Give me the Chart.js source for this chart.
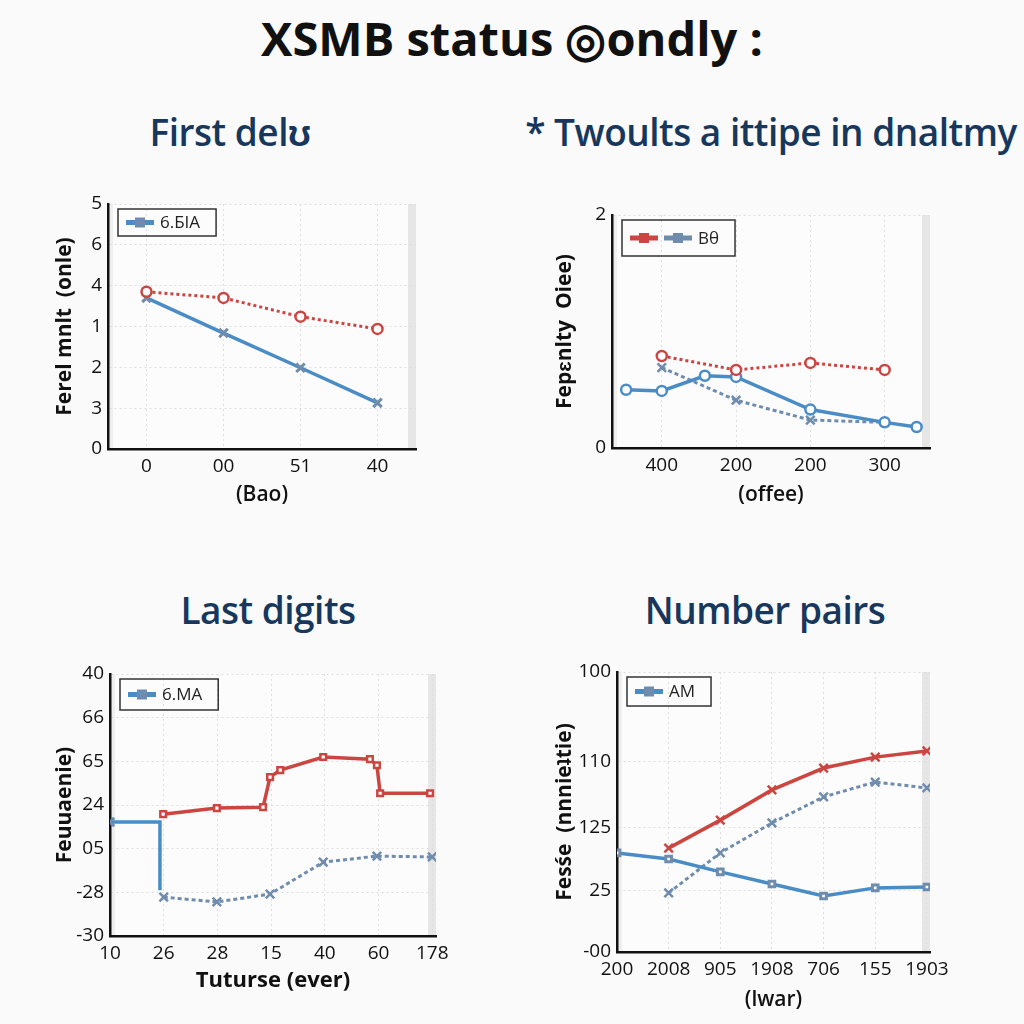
<!DOCTYPE html>
<html>
<head>
<meta charset="utf-8">
<script src="https://cdn.jsdelivr.net/npm/chart.js@4.4.1/dist/chart.umd.min.js"></script>
<style>
  body { margin: 0; width: 1024px; height: 1024px; background: #fafafa; position: relative; overflow: hidden; font-family: 'Open Sans', sans-serif; }
  #mainTitle { position: absolute; top: 6px; left: 0; width: 1024px; text-align: center; font-size: 47px; font-weight: 700; color: #111; letter-spacing: 0px; }
  .sub { position: absolute; font-size: 37px; font-weight: 600; color: #17385c; text-align: center; white-space: nowrap; letter-spacing: -0.5px; }
  .box { position: absolute; }
</style>
</head>
<body>
<div id="mainTitle">XSMB status ◎ondly  :</div>
<div class="sub" style="left:30px;top:106px;width:400px;">First delʊ</div>
<div class="sub" style="left:494px;top:106px;width:554px;">* Twoults a ittipe in dnaltmy</div>
<div class="sub" style="left:68px;top:584px;width:400px;">Last digits</div>
<div class="sub" style="left:565px;top:584px;width:400px;">Number pairs</div>

<div class="box" style="left:40px;top:180px;width:400px;height:340px;"><canvas id="chart1"></canvas></div>
<div class="box" style="left:540px;top:190px;width:420px;height:330px;"><canvas id="chart2"></canvas></div>
<div class="box" style="left:40px;top:650px;width:420px;height:370px;"><canvas id="chart3"></canvas></div>
<div class="box" style="left:540px;top:650px;width:420px;height:370px;"><canvas id="chart4"></canvas></div>

<script>
// ---------------- data ----------------
// chart 1 - First delu
const c1Labels = ['0', '00', '51', '40'];
const c1YTicks = ['0', '3', '2', '1', '4', '6', '5'];
const c1Red = [3.85, 3.70, 3.24, 2.94];
const c1Blue = [3.70, 2.84, 1.99, 1.13];

// chart 2 - Twoults
const c2XTicks = ['400', '200', '200', '300'];
const c2YTickPos = [0, 2];
const c2YTicks = ['0', '2'];
const c2RedX = [1, 2, 3, 4];
const c2Red = [0.79, 0.67, 0.73, 0.67];
const c2BlueX = [0.52, 1, 1.58, 2, 3, 4, 4.43];
const c2Blue = [0.50, 0.49, 0.62, 0.61, 0.33, 0.22, 0.18];
const c2GrayX = [1, 2, 3, 4];
const c2Gray = [0.69, 0.41, 0.24, 0.22];

// chart 3 - Last digits
const c3XTicks = ['10', '26', '28', '15', '40', '60', '178'];
const c3YTicks = ['-30', '-28', '05', '24', '65', '66', '40'];
const c3RedX = [0.99, 1.99, 2.85, 2.98, 3.17, 3.97, 4.84, 4.97, 5.03, 5.96];
const c3Red = [2.79, 2.93, 2.95, 3.64, 3.80, 4.10, 4.05, 3.91, 3.27, 3.27];
const c3BlueX = [0, 0.93, 0.93];
const c3Blue = [2.61, 2.61, 1.05];
const c3GrayX = [1, 1.99, 2.98, 3.97, 4.97, 6];
const c3Gray = [0.89, 0.78, 0.96, 1.69, 1.83, 1.81];

// chart 4 - Number pairs
const c4XTicks = ['200', '2008', '905', '1908', '706', '155', '1903'];
const c4YTickPos = [0, 21.8, 44.3, 67.9, 100];
const c4YTicks = ['-00', '25', '125', '110', '100'];
const c4RedX = [1, 2, 3, 4, 5, 6];
const c4Red = [37.1, 47.1, 57.9, 65.7, 69.6, 71.8];
const c4BlueX = [0, 1, 2, 3, 4, 5, 6];
const c4Blue = [35.4, 33.2, 28.6, 24.3, 20.0, 22.9, 23.2];
const c4GrayX = [1, 2, 3, 4, 5, 6];
const c4Gray = [21.1, 35.4, 46.1, 55.4, 60.7, 58.6];

// ---------------- styles ----------------
const RED = '#cb4541';
const BLUE = '#4a8cc6';
const GRAY = '#6f8cad';
const FAMILY = "'Open Sans', sans-serif";
const tickFont = { family: FAMILY, size: 19 };

const xy = (xs, ys) => xs.map((x, i) => ({ x: x, y: ys[i] }));

// plot background, grey side bands and the framed legend in the top-left corner
const framePlugin = {
  id: 'frame',
  beforeDraw(chart) {
    const a = chart.chartArea, c = chart.ctx;
    c.save();
    c.fillStyle = '#fcfcfc';
    c.fillRect(a.left, a.top, a.right - a.left, a.bottom - a.top);
    c.fillStyle = '#e6e6e6';
    c.fillRect(a.right - 8, a.top, 8, a.bottom - a.top);
    c.fillStyle = '#efefef';
    c.fillRect(a.left, a.top, 5, a.bottom - a.top);
    c.restore();
  },
  afterDraw(chart) {
    const a = chart.chartArea, c = chart.ctx;
    const items = chart.data.datasets.filter(d => d.inLegend);
    if (!items.length) return;
    const x0 = a.left + 10, y0 = a.top + 5, h = chart.options.legendHeight || 28;
    const midY = y0 + h / 2;
    c.save();
    c.font = '17px ' + FAMILY;
    c.textBaseline = 'middle';
    let x = x0 + 8;
    items.forEach(d => {
      const col = d.legendColor || d.borderColor;
      c.strokeStyle = col;
      c.lineWidth = 5;
      c.beginPath(); c.moveTo(x, midY); c.lineTo(x + 28, midY); c.stroke();
      c.fillStyle = d.pointBorderColor || col;
      c.fillRect(x + 9, midY - 5, 10, 10);
      x += 34;
      if (d.label) {
        c.fillStyle = '#222';
        c.fillText(d.label, x, midY + 1);
        x += c.measureText(d.label).width;
      }
    });
    const w = x - x0 + 16;
    c.strokeStyle = '#333';
    c.lineWidth = 1.5;
    c.strokeRect(x0, y0, w, h);
    c.restore();
  }
};

function redLine(data, dashed, marker) {
  return {
    data: data, borderColor: RED, backgroundColor: RED, borderWidth: 3,
    borderDash: dashed ? [3, 3] : [], pointStyle: marker || 'circle', pointRadius: 5,
    pointBorderWidth: 2.5, pointBackgroundColor: '#fff', pointBorderColor: RED, tension: 0
  };
}
function blueLine(data, marker) {
  return {
    data: data, borderColor: BLUE, backgroundColor: BLUE, borderWidth: 3.5,
    pointStyle: marker || 'crossRot', pointRadius: 6, pointBorderWidth: 3,
    pointBorderColor: GRAY, pointBackgroundColor: '#fff', tension: 0
  };
}
function grayLine(data) {
  return {
    data: data, borderColor: GRAY, backgroundColor: GRAY, borderWidth: 3,
    borderDash: [4, 3], pointStyle: 'crossRot', pointRadius: 6, pointBorderWidth: 2.5,
    pointBorderColor: GRAY, tension: 0
  };
}

function axisBase(title, titleWeight) {
  return {
    title: { display: true, text: title, font: { family: FAMILY, size: 21, weight: titleWeight || 'bold' }, color: '#111', padding: 2 },
    ticks: { font: tickFont, color: '#111', padding: 6, autoSkip: false, maxRotation: 0 },
    grid: { color: '#dedede', lineWidth: 1, drawTicks: false },
    border: { color: '#111', width: 2.5, dash: [2, 3] }
  };
}

function fixedTicks(axis, positions, labels) {
  axis.afterBuildTicks = s => { s.ticks = positions.map(v => ({ value: v })); };
  axis.ticks.callback = (v, i) => labels[i];
  return axis;
}

function makeChart(id, datasets, xScale, yScale, pad, yWidth, xHeight, legendHeight) {
  yScale.afterFit = s => { s.width = yWidth; };
  xScale.afterFit = s => { s.height = xHeight; };
  return new Chart(document.getElementById(id), {
    type: 'line',
    data: { datasets: datasets },
    options: {
      responsive: true,
      maintainAspectRatio: false,
      animation: false,
      legendHeight: legendHeight,
      layout: { padding: pad },
      scales: { x: xScale, y: yScale },
      plugins: { legend: { display: false }, tooltip: { enabled: false } }
    },
    plugins: [framePlugin]
  });
}

// ---------------- chart 1 ----------------
const c1x = axisBase('(Bao)', '600');
c1x.type = 'category';
c1x.labels = c1Labels;
c1x.offset = true;
const c1y = fixedTicks(Object.assign(axisBase('Ferel mnlt  (onle)'), { type: 'linear', min: 0, max: 6 }),
  [0, 1, 2, 3, 4, 5, 6], c1YTicks);
makeChart('chart1', [
  Object.assign(redLine(c1Red, true), { label: '' }),
  Object.assign(blueLine(c1Blue), { label: '6.БIA', inLegend: true })
], c1x, c1y, { left: 10, top: 24, right: 24, bottom: 10 }, 58, 61, 27);

// ---------------- chart 2 ----------------
const c2x = fixedTicks(Object.assign(axisBase('(offee)', '600'), { type: 'linear', min: 0.33, max: 4.61 }),
  [1, 2, 3, 4], c2XTicks);
const c2y = fixedTicks(Object.assign(axisBase('Fepɛnlty  Oiee)'), { type: 'linear', min: 0, max: 2 }),
  c2YTickPos, c2YTicks);
makeChart('chart2', [
  Object.assign(redLine(xy(c2RedX, c2Red), true), { label: '', inLegend: true, pointBorderColor: RED }),
  Object.assign(blueLine(xy(c2BlueX, c2Blue), 'circle'), { label: '', pointRadius: 5, pointBorderWidth: 2.5, pointBorderColor: BLUE }),
  Object.assign(grayLine(xy(c2GrayX, c2Gray)), { label: 'Bθ', inLegend: true })
], c2x, c2y, { left: 10, top: 25, right: 30, bottom: 10 }, 62, 62, 36);

// ---------------- chart 3 ----------------
const c3x = fixedTicks(Object.assign(axisBase('Tuturse (ever)'), { type: 'linear', min: 0, max: 6.07 }),
  [0, 1, 2, 3, 4, 5, 6], c3XTicks);
c3x.title.font = { family: FAMILY, size: 22, weight: 'bold' };
const c3y = fixedTicks(Object.assign(axisBase('Feuuaenie)'), { type: 'linear', min: 0, max: 6 }),
  [0, 1, 2, 3, 4, 5, 6], c3YTicks);
makeChart('chart3', [
  Object.assign(redLine(xy(c3RedX, c3Red), false, 'rect'), { label: '', borderWidth: 3.5, pointRadius: 4 }),
  Object.assign(blueLine(xy(c3BlueX, c3Blue), 'crossRot'), { label: '6.MA', inLegend: true, pointRadius: [6, 0, 0] }),
  Object.assign(grayLine(xy(c3GrayX, c3Gray)), { label: '' })
], c3x, c3y, { left: 10, top: 24, right: 24, bottom: 24 }, 60, 60, 31);

// ---------------- chart 4 ----------------
const c4x = fixedTicks(Object.assign(axisBase('(lwar)', '600'), { type: 'linear', min: 0, max: 6.06 }),
  [0, 1, 2, 3, 4, 5, 6], c4XTicks);
const c4y = fixedTicks(Object.assign(axisBase('Fesśe  (nnnieʇtie)'), { type: 'linear', min: 0, max: 100 }),
  c4YTickPos, c4YTicks);
makeChart('chart4', [
  Object.assign(redLine(xy(c4RedX, c4Red), false, 'crossRot'), { label: '', borderWidth: 3.5, pointRadius: 6 }),
  Object.assign(blueLine(xy(c4BlueX, c4Blue), 'rect'), { label: 'AM', inLegend: true, pointRadius: 4 }),
  Object.assign(grayLine(xy(c4GrayX, c4Gray)), { label: '' })
], c4x, c4y, { left: 10, top: 22, right: 30, bottom: 5 }, 67, 63, 29);
</script>
</body>
</html>
